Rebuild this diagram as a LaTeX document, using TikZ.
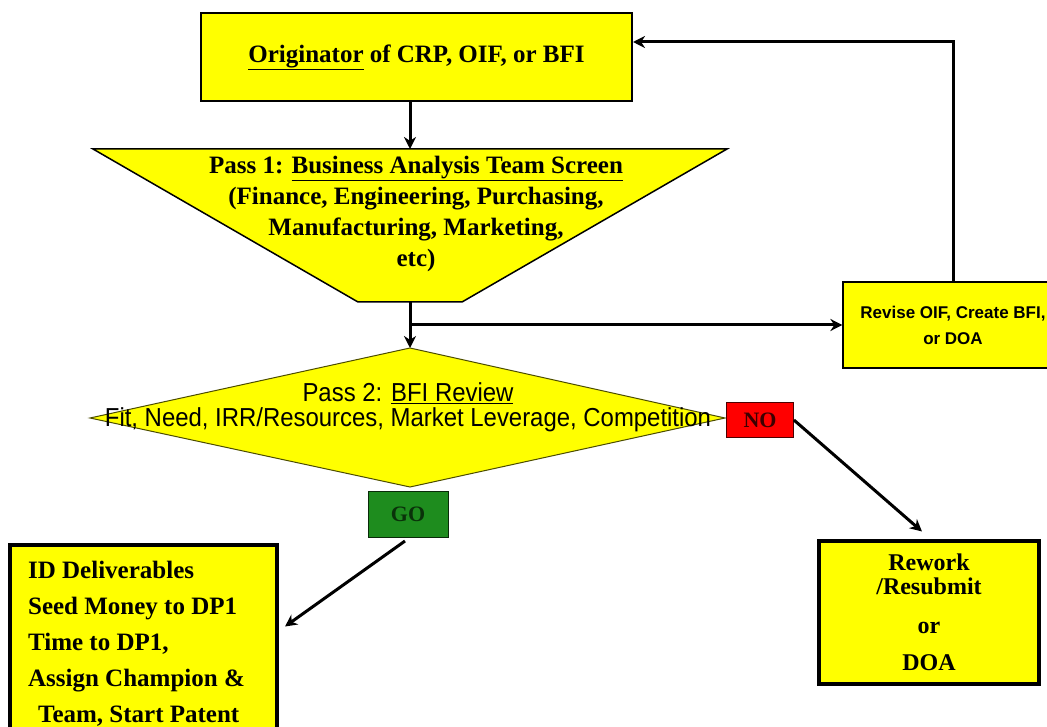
\documentclass[tikz,border=0pt]{standalone}
\usepackage{fontspec}
\setmainfont{Liberation Serif}
\newfontfamily\narrowsans[FakeStretch=0.92]{Liberation Sans}
\newfontfamily\revsans{Liberation Sans}
\usetikzlibrary{arrows.meta}
\definecolor{ppyellow}{RGB}{255,255,0}
\definecolor{ppred}{RGB}{255,0,0}
\definecolor{ppgreen}{RGB}{30,140,30}
\definecolor{gotext}{RGB}{10,50,10}
\definecolor{notext}{RGB}{60,0,0}
\tikzset{
  ybox/.style={draw=black, fill=ppyellow, line width=1.2pt, inner sep=0pt},
  thickbox/.style={draw=black, fill=ppyellow, line width=4pt, inner sep=0pt},
  arr/.style={line width=3pt, -{Stealth[length=12pt,width=12pt]}},
  serifbig/.style={font=\fontsize{25}{31}\selectfont\bfseries},
}
\begin{document}
\begin{tikzpicture}[x=1pt,y=-1pt]
\useasboundingbox (0,0) rectangle (1047,727);
% top box
\node[ybox, minimum width=431pt, minimum height=88pt, serifbig] (orig) at (416.5,57)
  {\underline{Originator} of CRP, OIF, or BFI};
% trapezoid
\coordinate (tl) at (93,149);
\coordinate (tr) at (727,149);
\coordinate (brt) at (462,302);
\coordinate (blt) at (358,302);
\coordinate (traptop) at (410,149);
\coordinate (trapbot) at (410,302);
\draw[fill=ppyellow, line width=1.5pt, line join=miter] (tl) -- (tr) -- (brt) -- (blt) -- cycle;
\node[serifbig, align=center, inner sep=0pt] (pass1) at (416,214)
  {Pass 1: \underline{Business Analysis Team Screen}\\
   (Finance, Engineering, Purchasing,\\
   Manufacturing, Marketing,\\
   etc)};
% diamond
\coordinate (dtop) at (410,348);
\coordinate (dleft) at (90,418);
\coordinate (dright) at (725,418);
\coordinate (dbot) at (410,487);
\draw[fill=ppyellow, draw=black!70!ppyellow, line width=1pt] (dtop) -- (dright) -- (dbot) -- (dleft) -- cycle;
\node[font=\fontsize{26}{25}\selectfont\narrowsans, align=center, inner sep=0pt] (pass2) at (408,407)
  {Pass 2: \underline{BFI Review}\\
   Fit, Need, IRR/Resources, Market Leverage, Competition};
% revise box
\node[ybox, minimum width=220pt, minimum height=86pt, align=center,
      font=\fontsize{17}{26}\selectfont\revsans\bfseries] (revise) at (953,325)
  {Revise OIF, Create BFI,\\or DOA};
% NO box
\node[draw=black!70!ppred, fill=ppred, line width=0.8pt, minimum width=67pt, minimum height=35pt,
      font=\fontsize{22}{24}\selectfont\bfseries, text=notext] (no) at (760,420) {NO};
% GO box
\node[draw=black!70!ppgreen, fill=ppgreen, line width=0.8pt, minimum width=80pt, minimum height=46pt,
      font=\fontsize{22}{24}\selectfont\bfseries, text=gotext] (go) at (408,514) {GO};
% rework box
\node[thickbox, minimum width=220pt, minimum height=143pt, align=center,
      font=\fontsize{24}{24}\selectfont\bfseries] (rework) at (929,612)
  {Rework\\/Resubmit\\[15pt]or\\[13pt]DOA};
% ID box
\node[thickbox, minimum width=267pt, minimum height=197pt, align=left,
      font=\fontsize{25}{36}\selectfont\bfseries] (idbox) at (143.5,643.5)
  {ID Deliverables\\Seed Money to DP1\\Time to DP1,\\Assign Champion \&\hspace*{14pt}\null\\\hspace*{10pt}Team, Start Patent};
% connectors
\draw[arr] (traptop |- orig.south) -- (traptop);
\draw[arr] (trapbot) -- (dtop);
\coordinate (branch) at (410,325);
\draw[arr] (branch) -- (revise.west);
\coordinate (backin) at (633,42);
\draw[arr] (revise.north) |- (backin);
\draw[arr] (no.east) -- ([xshift=-7pt,yshift=7pt]rework.north);
\coordinate (gostart) at (405,541);
\draw[arr] (gostart) -- ([xshift=6pt,yshift=17pt]idbox.east);
\end{tikzpicture}
\end{document}
